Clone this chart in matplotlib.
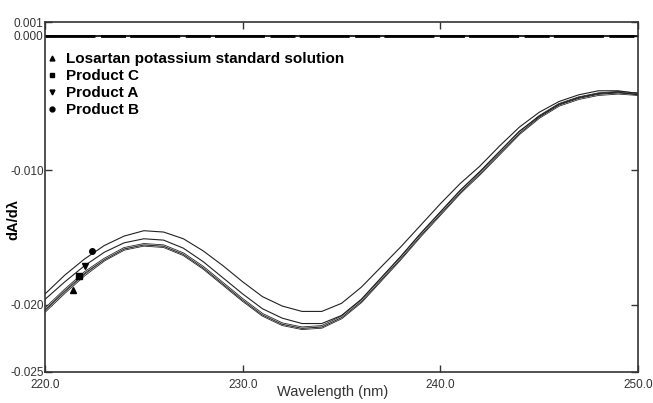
import matplotlib
matplotlib.use("Agg")
import matplotlib.pyplot as plt
from matplotlib.lines import Line2D

wavelength = list(range(220, 251))

product_b = [-0.0192, -0.0178, -0.0166, -0.0156, -0.0149, -0.0145, -0.0146, -0.0151,
             -0.0160, -0.0171, -0.0183, -0.0194, -0.0201, -0.0205, -0.0205, -0.0199,
             -0.0187, -0.0172, -0.0157, -0.0141, -0.0125, -0.0110, -0.0097, -0.0082,
             -0.0068, -0.0057, -0.0049, -0.0044, -0.0041, -0.0041, -0.0043]
product_a = [-0.0196, -0.0183, -0.0171, -0.0161, -0.0154, -0.0151, -0.0152, -0.0158,
             -0.0168, -0.0180, -0.0192, -0.0203, -0.0210, -0.0214, -0.0214, -0.0208,
             -0.0196, -0.0180, -0.0164, -0.0147, -0.0131, -0.0115, -0.0101, -0.0086,
             -0.0071, -0.0060, -0.0051, -0.0046, -0.0043, -0.0042, -0.0044]
standard = [-0.0205, -0.0191, -0.0178, -0.0167, -0.0159, -0.0156, -0.0157, -0.0163,
            -0.0173, -0.0185, -0.0197, -0.0208, -0.0215, -0.0218, -0.0217, -0.0210,
            -0.0198, -0.0182, -0.0166, -0.0149, -0.0133, -0.0117, -0.0103, -0.0088,
            -0.0073, -0.0061, -0.0052, -0.0047, -0.0044, -0.0043, -0.0044]
product_c = [-0.0203, -0.0189, -0.0176, -0.0166, -0.0158, -0.0155, -0.0156, -0.0162,
             -0.0172, -0.0184, -0.0196, -0.0207, -0.0214, -0.0217, -0.0216, -0.0209,
             -0.0197, -0.0181, -0.0165, -0.0148, -0.0132, -0.0116, -0.0102, -0.0087,
             -0.0072, -0.0060, -0.0051, -0.0046, -0.0043, -0.0042, -0.0043]
baseline = [0.0] * len(wavelength)

# series marker labels placed near the curves
marker_x = [221.4, 221.7, 222.0, 222.4]
marker_y = [-0.0189, -0.0179, -0.0171, -0.0160]
marker_shapes = ["^", "s", "v", "o"]
series_names = ["Losartan potassium standard solution", "Product C", "Product A", "Product B"]

xticks = [220, 230, 240, 250]
xtick_labels = ["220.0", "230.0", "240.0", "250.0"]
yticks = [0.001, 0.0, -0.010, -0.020, -0.025]
ytick_labels = ["0.001", "0.000", "-0.010", "-0.020", "-0.025"]

plt.rcParams['font.family'] = ['Liberation Sans', 'DejaVu Sans']

fig = plt.figure(figsize=(6.53, 4.03), dpi=100)
ax = fig.add_axes([0.069, 0.077, 0.908, 0.868])

# baseline at zero (several overlapping traces)
ax.plot(wavelength, baseline, color='black', lw=1.2)
ax.plot(wavelength, baseline, color='black', lw=2.0, dashes=(18, 2, 9, 1.5))

for series in (standard, product_c):
    ax.plot(wavelength, series, color='#222222', lw=1.5)
    ax.plot(wavelength, series, color='white', lw=0.35)
ax.plot(wavelength, product_a, color='#222222', lw=0.8)
ax.plot(wavelength, product_b, color='#222222', lw=0.8)

for mx, my, ms in zip(marker_x, marker_y, marker_shapes):
    ax.plot([mx], [my], marker=ms, color='black', markersize=4, linestyle='none')

handles = [Line2D([], [], marker=m, color='black', linestyle='none', markersize=3.5)
           for m in marker_shapes]
leg = ax.legend(handles, series_names, loc='upper left', frameon=False,
                bbox_to_anchor=(-0.017, 0.945), handlelength=0.8, handletextpad=0.5,
                labelspacing=0.2, borderaxespad=0.3,
                prop={'weight': 'bold', 'size': 11})

ax.set_xlim(220, 250)
ax.set_ylim(-0.025, 0.001)
ax.set_xticks(xticks)
ax.set_xticklabels(xtick_labels)
ax.set_yticks(yticks)
ax.set_yticklabels(ytick_labels)
ax.tick_params(direction='in', length=5, width=1, color='#333333',
               labelsize=8.5, labelcolor='#333333', top=True, right=True)
ax.tick_params(axis='y', pad=1)
ax.tick_params(axis='x', pad=5)
for s in ax.spines.values():
    s.set_color('#333333')
    s.set_linewidth(1.2)

fig.text(0.51, 0.01, 'Wavelength (nm)', ha='center', va='bottom', fontsize=10.5, color='#333333')
fig.text(0.02, 0.455, 'dA/dλ', ha='center', va='center', rotation=90,
         fontsize=10.5, fontweight='bold', family=['Liberation Sans', 'DejaVu Sans'])

fig.savefig('out.png', dpi=100)
